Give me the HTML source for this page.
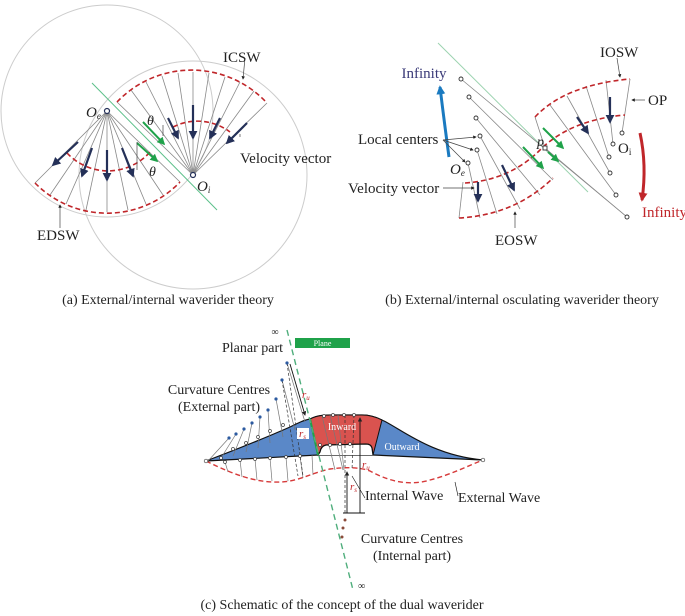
<!DOCTYPE html>
<html><head><meta charset="utf-8"><style>
html,body{margin:0;padding:0;background:#fff}
svg{display:block}
text{font-family:"Liberation Serif",serif;fill:#222}
</style></head><body>
<svg width="685" height="616" viewBox="0 0 685 616" xmlns="http://www.w3.org/2000/svg">
<defs>
<marker id="ad" viewBox="0 0 10 10" refX="8" refY="5" markerWidth="4" markerHeight="5" orient="auto"><path d="M0,0L10,5L0,10z" fill="#243058"/></marker>
<marker id="ag" viewBox="0 0 10 10" refX="8" refY="5" markerWidth="4" markerHeight="5" orient="auto"><path d="M0,0L10,5L0,10z" fill="#1fa24a"/></marker>
<marker id="ak" viewBox="0 0 10 10" refX="8" refY="5" markerWidth="5" markerHeight="5" orient="auto"><path d="M0,0L10,5L0,10z" fill="#222"/></marker>
<marker id="ab" viewBox="0 0 10 10" refX="8" refY="5" markerWidth="3" markerHeight="3" orient="auto"><path d="M0,0L10,5L0,10z" fill="#1a7ac0"/></marker>
<marker id="ar" viewBox="0 0 10 10" refX="8" refY="5" markerWidth="3" markerHeight="3" orient="auto"><path d="M0,0L10,5L0,10z" fill="#c0262a"/></marker>
</defs>

<!-- ===== Panel (a) ===== -->
<circle cx="107" cy="111" r="106" fill="none" stroke="#ccc" stroke-width="1"/>
<circle cx="193" cy="175" r="114" fill="none" stroke="#ccc" stroke-width="1"/>
<g stroke="#888" stroke-width="0.8">
<line x1="193" y1="175" x2="117" y2="102"/><line x1="193" y1="175" x2="131" y2="90"/>
<line x1="193" y1="175" x2="146" y2="82"/><line x1="193" y1="175" x2="162" y2="76"/>
<line x1="193" y1="175" x2="178" y2="73"/><line x1="193" y1="175" x2="193" y2="72"/>
<line x1="193" y1="175" x2="209" y2="73"/><line x1="193" y1="175" x2="225" y2="77"/>
<line x1="193" y1="175" x2="240" y2="82"/><line x1="193" y1="175" x2="254" y2="91"/>
<line x1="193" y1="175" x2="267" y2="103"/>
<line x1="107" y1="111" x2="35" y2="183"/><line x1="107" y1="111" x2="50" y2="195"/>
<line x1="107" y1="111" x2="66" y2="204"/><line x1="107" y1="111" x2="86" y2="210"/>
<line x1="107" y1="111" x2="107" y2="212"/><line x1="107" y1="111" x2="128" y2="210"/>
<line x1="107" y1="111" x2="146" y2="204"/><line x1="107" y1="111" x2="163" y2="195"/>
<line x1="107" y1="111" x2="180" y2="182"/>
</g>
<line x1="92" y1="83" x2="217" y2="210" stroke="#5cc08a" stroke-width="1"/>
<g fill="none" stroke="#c0262a" stroke-width="1.6" stroke-dasharray="5,3">
<path d="M117,102 A103,103 0 0 1 267,103"/>
<path d="M173,127 A54,54 0 0 1 230,132"/>
<path d="M35,183 A101,101 0 0 0 180,182"/>
<path d="M67,153 A56,56 0 0 0 150,152"/>
</g>
<g stroke="#243058" stroke-width="2.2" marker-end="url(#ad)">
<line x1="168" y1="118" x2="178" y2="138"/><line x1="193" y1="105" x2="193" y2="138"/>
<line x1="220" y1="118" x2="210" y2="138"/><line x1="247" y1="123" x2="227" y2="143"/>
<line x1="78" y1="142" x2="53" y2="165"/><line x1="92" y1="148" x2="82" y2="176"/>
<line x1="107" y1="150" x2="107" y2="180"/><line x1="122" y1="148" x2="133" y2="176"/>
</g>
<g stroke="#1fa24a" stroke-width="2" marker-end="url(#ag)">
<line x1="143" y1="122" x2="164" y2="144"/><line x1="137" y1="143" x2="157" y2="161"/>
</g>
<g stroke="#444" stroke-width="0.7" fill="none">
<line x1="163" y1="125" x2="163" y2="136"/><line x1="137" y1="142" x2="137" y2="170"/>
<line x1="245" y1="58" x2="243" y2="79" marker-end="url(#ak)"/>
<line x1="240" y1="137" x2="240" y2="134"/>
<line x1="60" y1="228" x2="60" y2="205" marker-end="url(#ak)"/>
</g>
<circle cx="107" cy="111" r="2.5" fill="#fff" stroke="#243058" stroke-width="1.2"/>
<circle cx="193" cy="175" r="2.5" fill="#fff" stroke="#243058" stroke-width="1.2"/>
<text x="86" y="117" font-size="15" font-style="italic">O<tspan font-size="9" dy="2">e</tspan></text>
<text x="197" y="191" font-size="15" font-style="italic">O<tspan font-size="9" dy="2">i</tspan></text>
<text x="147" y="125" font-size="14" font-style="italic">θ</text>
<text x="149" y="176" font-size="14" font-style="italic">θ</text>
<text x="223" y="62" font-size="15">ICSW</text>
<text x="240" y="163" font-size="15">Velocity vector</text>
<text x="37" y="240" font-size="15">EDSW</text>
<text x="168" y="304" font-size="14" text-anchor="middle">(a) External/internal waverider theory</text>

<!-- ===== Panel (b) ===== -->
<line x1="438" y1="43" x2="588" y2="192" stroke="#9cd3b0" stroke-width="1"/>
<g stroke="#888" stroke-width="0.8" fill="none">
<line x1="461" y1="79" x2="627" y2="217"/>
<line x1="469" y1="97" x2="553" y2="180"/>
<line x1="476" y1="118" x2="540" y2="195"/>
<line x1="480" y1="136" x2="520" y2="209"/>
<line x1="477" y1="150" x2="497" y2="214"/>
<line x1="468" y1="163" x2="480" y2="218"/>
<line x1="459" y1="218" x2="463" y2="182"/>
<line x1="622" y1="133" x2="630" y2="79"/>
<line x1="613" y1="144" x2="606" y2="80"/>
<line x1="609" y1="157" x2="586" y2="86"/>
<line x1="610" y1="173" x2="567" y2="96"/>
<line x1="616" y1="195" x2="550" y2="105"/>
<line x1="545" y1="148" x2="627" y2="217"/>
<line x1="535" y1="117" x2="545" y2="148"/>
</g>
<g fill="none" stroke="#c0262a" stroke-width="1.6" stroke-dasharray="5,3">
<path d="M535,117 Q565,85 630,79"/>
<path d="M465,183 Q510,180 540,150 Q570,120 625,115"/>
<path d="M459,218 Q515,215 553,178"/>
</g>
<g stroke="#243058" stroke-width="2.2" marker-end="url(#ad)">
<line x1="478" y1="182" x2="478" y2="201"/><line x1="502" y1="165" x2="514" y2="190"/>
<line x1="577" y1="117" x2="588" y2="133"/><line x1="610" y1="97" x2="610" y2="122"/>
</g>
<g stroke="#1fa24a" stroke-width="2" marker-end="url(#ag)">
<line x1="523" y1="147" x2="543" y2="168"/><line x1="543" y1="128" x2="563" y2="148"/>
<line x1="548" y1="152" x2="558" y2="161"/>
</g>
<path d="M449,157 Q444,120 440,87" fill="none" stroke="#1a7ac0" stroke-width="3" marker-end="url(#ab)"/>
<path d="M640,133 Q647,165 642,200" fill="none" stroke="#c0262a" stroke-width="3" marker-end="url(#ar)"/>
<g fill="#fff" stroke="#333" stroke-width="0.9">
<circle cx="461" cy="79" r="2"/><circle cx="469" cy="97" r="2"/><circle cx="476" cy="118" r="2"/>
<circle cx="480" cy="136" r="2"/><circle cx="477" cy="150" r="2"/><circle cx="468" cy="163" r="2"/>
<circle cx="622" cy="133" r="2"/><circle cx="613" cy="144" r="2"/><circle cx="609" cy="157" r="2"/>
<circle cx="610" cy="173" r="2"/><circle cx="616" cy="195" r="2"/><circle cx="627" cy="217" r="2"/>
<rect x="543" y="146" width="4" height="4"/>
</g>
<g stroke="#444" stroke-width="0.7" fill="none">
<path d="M443,140 L476,137" marker-end="url(#ak)"/>
<path d="M443,140 L473,150" marker-end="url(#ak)"/>
<path d="M443,140 L465,162" marker-end="url(#ak)"/>
<line x1="443" y1="188" x2="474" y2="188" marker-end="url(#ak)"/>
<line x1="515" y1="228" x2="515" y2="212" marker-end="url(#ak)"/>
<line x1="617" y1="58" x2="620" y2="77" marker-end="url(#ak)"/>
<line x1="645" y1="100" x2="632" y2="100" marker-end="url(#ak)"/>
</g>
<text x="424" y="78" font-size="15" text-anchor="middle" style="fill:#3a3a78">Infinity</text>
<text x="642" y="217" font-size="15" style="fill:#c0262a">Infinity</text>
<text x="600" y="57" font-size="15">IOSW</text>
<text x="648" y="105" font-size="15">OP</text>
<text x="358" y="144" font-size="15">Local centers</text>
<text x="348" y="193" font-size="15">Velocity vector</text>
<text x="495" y="245" font-size="15">EOSW</text>
<text x="450" y="174" font-size="15" font-style="italic">O<tspan font-size="9" dy="2">e</tspan></text>
<text x="618" y="153" font-size="15">O<tspan font-size="9" dy="2">i</tspan></text>
<text x="537" y="146" font-size="14" font-style="italic">p</text>
<text x="522" y="304" font-size="14" text-anchor="middle">(b) External/internal osculating waverider theory</text>

<!-- ===== Panel (c) ===== -->
<path d="M206,461 C235,450 265,438 290,427 C298,423 304,420 310,419 C318,415 325,415 333,415 L362,415 C370,415 376,417 382,420 C400,428 430,455 483,460 L373,455 L318,455 Z" fill="#5a88c8" stroke="#111" stroke-width="1.2"/>
<path d="M310,419 C318,415 325,415 333,415 L362,415 C370,415 376,417 382,420 L373,455 L372,448 Q371,444 366,444 L326,445 Q321,446 320,452 L318,455 Z" fill="#d9534f" stroke="#111" stroke-width="1"/>
<path d="M318,455 L320,452 Q321,446 326,445 L366,444 Q371,444 372,448 L373,455" fill="#fff" stroke="#111" stroke-width="1.2"/>
<line x1="310" y1="419" x2="318" y2="455" stroke="#1fa24a" stroke-width="2"/>
<g stroke="#777" stroke-width="0.7" fill="none">
<line x1="229" y1="438" x2="208" y2="461"/><line x1="236" y1="434" x2="221" y2="458"/>
<line x1="244" y1="429" x2="233" y2="456"/><line x1="252" y1="423" x2="246" y2="452"/>
<line x1="260" y1="417" x2="258" y2="448"/><line x1="268" y1="410" x2="270" y2="443"/>
<line x1="276" y1="399" x2="283" y2="437"/><line x1="282" y1="380" x2="295" y2="430"/>
<line x1="287" y1="363" x2="305" y2="422"/>
<line x1="225" y1="462" x2="228" y2="472"/><line x1="240" y1="460" x2="242" y2="477"/>
<line x1="255" y1="459" x2="257" y2="480"/><line x1="270" y1="458" x2="272" y2="481"/>
<line x1="286" y1="457" x2="288" y2="481"/><line x1="300" y1="456" x2="303" y2="478"/>
<line x1="312" y1="455" x2="313" y2="475"/>
<line x1="322" y1="416" x2="335" y2="470"/><line x1="330" y1="415" x2="343" y2="470"/>
<line x1="338" y1="415" x2="344" y2="470"/>
</g>
<g stroke="#333" stroke-width="0.7" fill="none" stroke-dasharray="3,2">
<line x1="287" y1="363" x2="303" y2="476"/><line x1="282" y1="380" x2="298" y2="476"/>
<line x1="345" y1="415" x2="345" y2="513"/><line x1="354" y1="415" x2="352" y2="470"/>
</g>
<path d="M206,461 C240,478 265,485 290,481 C305,478 315,472 330,469 C345,467 360,467 370,471 C390,482 410,486 430,480 C450,475 470,465 483,460" fill="none" stroke="#d63a3a" stroke-width="1.4" stroke-dasharray="5,3"/>
<line x1="287" y1="330" x2="353" y2="590" stroke="#4fae7c" stroke-width="1.4" stroke-dasharray="6,4"/>
<rect x="295" y="338" width="55" height="10" fill="#1fa24a"/>
<text x="322.5" y="346" font-size="8" text-anchor="middle" style="fill:#fff">Plane</text>
<g fill="#2c5aa0">
<circle cx="229" cy="438" r="1.6"/><circle cx="236" cy="434" r="1.6"/><circle cx="244" cy="429" r="1.6"/>
<circle cx="252" cy="423" r="1.6"/><circle cx="260" cy="417" r="1.6"/><circle cx="268" cy="410" r="1.6"/>
<circle cx="276" cy="399" r="1.6"/><circle cx="282" cy="380" r="1.6"/><circle cx="287" cy="363" r="1.6"/>
</g>
<g fill="#8a4a3a"><circle cx="345" cy="520" r="1.5"/><circle cx="343" cy="528" r="1.5"/><circle cx="342" cy="537" r="1.5"/></g>
<g fill="#fff" stroke="#444" stroke-width="0.7">
<circle cx="221" cy="458" r="1.5"/><circle cx="233" cy="449" r="1.5"/><circle cx="246" cy="443" r="1.5"/>
<circle cx="258" cy="437" r="1.5"/><circle cx="270" cy="431" r="1.5"/><circle cx="283" cy="425" r="1.5"/>
<circle cx="324" cy="416" r="1.5"/><circle cx="333" cy="415" r="1.5"/><circle cx="344" cy="415" r="1.5"/><circle cx="354" cy="415" r="1.5"/>
<circle cx="320" cy="445" r="1.5"/><circle cx="330" cy="445" r="1.5"/><circle cx="340" cy="444" r="1.5"/><circle cx="350" cy="444" r="1.5"/>
<circle cx="225" cy="462" r="1.5"/><circle cx="240" cy="460" r="1.5"/><circle cx="255" cy="459" r="1.5"/>
<circle cx="270" cy="458" r="1.5"/><circle cx="286" cy="457" r="1.5"/><circle cx="300" cy="456" r="1.5"/>
<circle cx="206" cy="461" r="1.8"/><circle cx="483" cy="460" r="1.8"/>
</g>
<g stroke="#111" stroke-width="0.9" fill="none">
<line x1="360" y1="513" x2="360" y2="418" marker-end="url(#ak)"/>
<line x1="347" y1="513" x2="347" y2="472" marker-end="url(#ak)"/>
<line x1="343" y1="513" x2="365" y2="513"/>
<line x1="290" y1="364" x2="305" y2="415" marker-end="url(#ak)"/>
<line x1="365" y1="498" x2="352" y2="476" stroke-width="0.6"/>
<line x1="458" y1="496" x2="455" y2="482" stroke-width="0.6"/>
</g>
<rect x="297" y="428" width="12" height="11" fill="#fff"/>
<text x="299" y="437" font-size="11" font-style="italic" style="fill:#c0262a">r<tspan font-size="7" dy="2">s</tspan></text>
<text x="302" y="398" font-size="11" font-style="italic" style="fill:#c0262a">r<tspan font-size="7" dy="2">u</tspan></text>
<text x="362" y="468" font-size="11" font-style="italic" style="fill:#c0262a">r<tspan font-size="7" dy="2">u</tspan></text>
<text x="350" y="490" font-size="11" font-style="italic" style="fill:#c0262a">r<tspan font-size="7" dy="2">s</tspan></text>
<text x="342" y="430" font-size="10" text-anchor="middle" style="fill:#fff">Inward</text>
<text x="402" y="450" font-size="10" text-anchor="middle" style="fill:#fff">Outward</text>
<text x="275" y="335" font-size="10" text-anchor="middle">∞</text>
<text x="358" y="589" font-size="10">∞</text>
<text x="283" y="352" font-size="14" text-anchor="end">Planar part</text>
<text x="219" y="394" font-size="14" text-anchor="middle">Curvature Centres</text>
<text x="219" y="411" font-size="14" text-anchor="middle">(External part)</text>
<text x="365" y="500" font-size="14">Internal Wave</text>
<text x="458" y="502" font-size="14">External Wave</text>
<text x="412" y="543" font-size="14" text-anchor="middle">Curvature Centres</text>
<text x="412" y="560" font-size="14" text-anchor="middle">(Internal part)</text>
<text x="342" y="609" font-size="14" text-anchor="middle">(c) Schematic of the concept of the dual waverider</text>
</svg>
</body></html>
